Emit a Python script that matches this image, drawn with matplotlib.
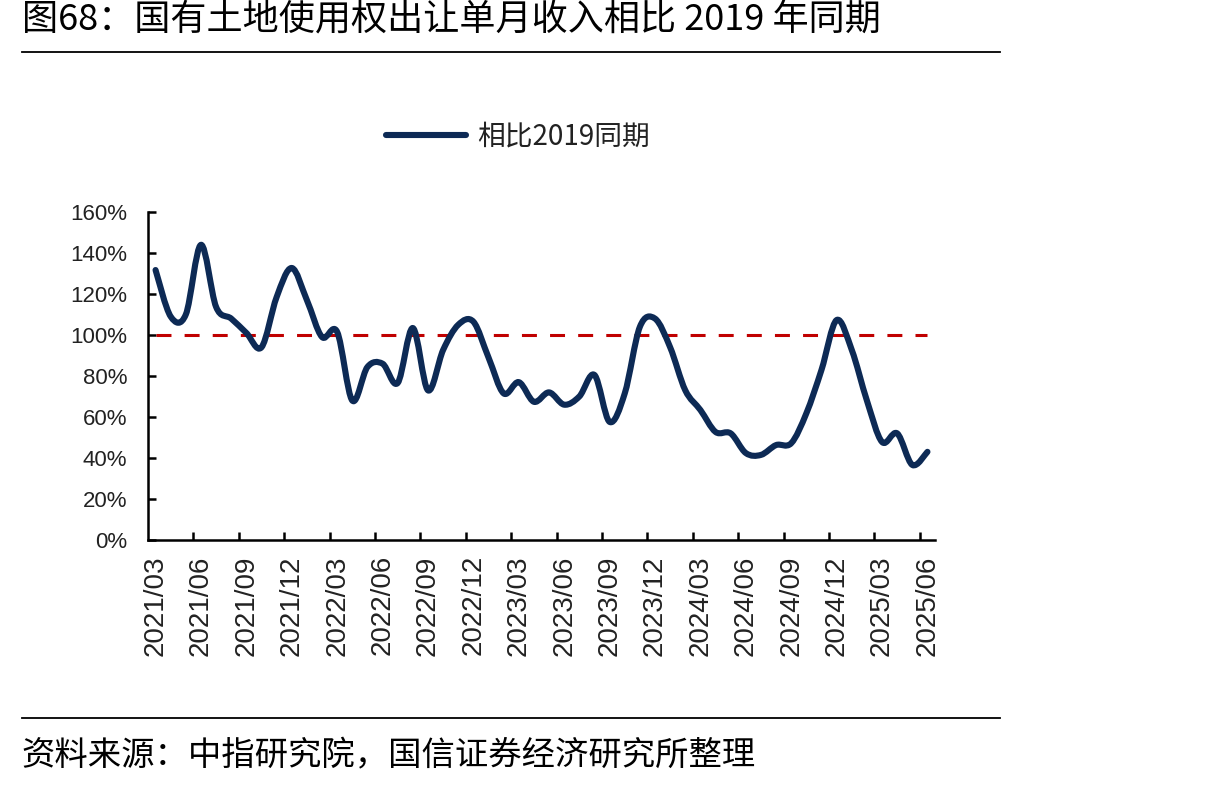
import numpy as np
import matplotlib
matplotlib.use("Agg")
import matplotlib.pyplot as plt
from matplotlib.path import Path
from matplotlib.patches import PathPatch
from matplotlib.lines import Line2D

plt.rcParams['font.family'] = ['Noto Sans CJK SC', 'DejaVu Sans']

# 月份（2021/03 - 2025/06）
months = [f"{y}/{m:02d}" for y in range(2021, 2026) for m in range(1, 13)]
months = months[months.index("2021/03"):months.index("2025/06") + 1]

# 相比2019同期（%）
ratio = [131.7, 109, 110, 144, 113.7, 108, 101, 94, 118.5, 132.7,
         117, 99, 101.5, 68, 84.4, 86, 76.6, 103.4, 73, 92.7,
         105, 106.5, 89, 71.5, 77, 67.4, 72, 66, 70, 80.5,
         57.6, 71.5, 104, 108, 94, 73, 63.4, 52.7, 52, 42.4,
         41.5, 46.3, 47.2, 61.8, 83, 107.3, 92.7, 68, 47.8, 52,
         36.6, 43]
baseline = 100

yticks = [0, 20, 40, 60, 80, 100, 120, 140, 160]
label_step = 3

navy = '#0D2A55'
red = '#C00000'


def smooth_path(x, y, t=1.0):
    """Excel 风格的平滑折线：Catmull-Rom 转三次贝塞尔"""
    p = np.column_stack([x, y]).astype(float)
    ext = np.vstack([p[0], p, p[-1]])
    verts = [p[0]]
    codes = [Path.MOVETO]
    for i in range(len(p) - 1):
        p0, p1, p2, p3 = ext[i], ext[i + 1], ext[i + 2], ext[i + 3]
        c1 = p1 + (p2 - p0) * t / 6
        c2 = p2 - (p3 - p1) * t / 6
        verts += [c1, c2, p2]
        codes += [Path.CURVE4] * 3
    return Path(verts, codes)


fig = plt.figure(figsize=(12.17, 7.87), dpi=100)
ax = fig.add_axes([0.1216, 0.3139, 0.6467, 0.4167])

xs = np.arange(len(months))
ax.hlines(baseline, xs[0], xs[-1], colors=red, lw=2.2,
          linestyles=(0, (4.9, 4.3)), zorder=2)
ax.add_patch(PathPatch(smooth_path(xs, ratio), fill=False, edgecolor=navy,
                       lw=4.4, capstyle='round', joinstyle='round', zorder=3))

ax.set_xlim(-0.5, len(months) - 0.5)
ax.set_ylim(0, 160)

ax.set_yticks(yticks)
ax.set_yticklabels([f"{v}%" for v in yticks], family='Liberation Sans',
                   fontsize=16, color='#222222')
ax.tick_params(axis='y', direction='in', length=6, width=1.8, pad=15)

lab_idx = xs[::label_step]
ax.set_xticks(lab_idx)
ax.set_xticklabels([months[i] for i in lab_idx], rotation=90,
                   family='Liberation Sans', fontsize=20, color='#222222')
ax.tick_params(axis='x', which='major', length=0, pad=11)
ax.set_xticks(lab_idx[1:] - 0.5, minor=True)
ax.tick_params(axis='x', which='minor', direction='in', length=6, width=1.8)

for s in ['top', 'right']:
    ax.spines[s].set_visible(False)
for s in ['left', 'bottom']:
    ax.spines[s].set_linewidth(1.8)
    ax.spines[s].set_color('black')

handle = Line2D([], [], color=navy, lw=4.4, solid_capstyle='round')
ax.legend([handle], ['相比2019同期'], loc='center left',
          bbox_to_anchor=(0.317, 0.826), bbox_transform=fig.transFigure,
          frameon=False, fontsize=20, handlelength=2.9, handletextpad=0.4,
          borderpad=0, borderaxespad=0, labelcolor='#222222')

# 标题与来源
fig.text(0.018, 0.974, '图68：国有土地使用权出让单月收入相比 2019 年同期',
         fontsize=26, va='center', ha='left', color='black')
fig.add_artist(Line2D([0.018, 0.822], [0.934, 0.934], color='black', lw=1.3,
                      transform=fig.transFigure))
fig.add_artist(Line2D([0.018, 0.822], [0.0877, 0.0877], color='black', lw=1.3,
                      transform=fig.transFigure))
fig.text(0.018, 0.040, '资料来源：中指研究院，国信证券经济研究所整理',
         fontsize=24, va='center', ha='left', color='black')

fig.savefig('out.png', dpi=100)
